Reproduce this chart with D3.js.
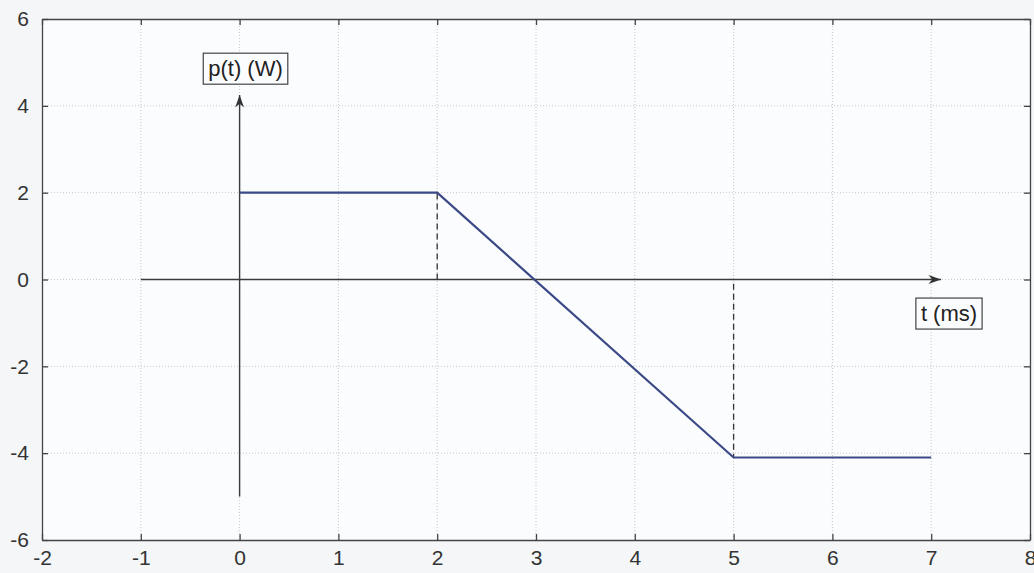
<!DOCTYPE html>
<html>
<head>
<meta charset="utf-8">
<script src="https://cdn.jsdelivr.net/npm/d3@7"></script>
<style>
  body { margin: 0; background: #f4f6f7; }
  svg { display: block; font-family: "Liberation Sans", Arial, sans-serif; }
</style>
</head>
<body>
<svg id="chart"></svg>
<script>
var $svg = {width: 1034, height: 573};
var $margin = {left: 42, right: 4, top: 19, bottom: 33};

// p(t) in W against t in ms
var timeValues = [0, 2, 5, 7];
var powerValues = [2, 2, -4.1, -4.1];
var xTicks = [-2, -1, 0, 1, 2, 3, 4, 5, 6, 7, 8];
var yTicks = [-6, -4, -2, 0, 2, 4, 6];
var dashedAt = [2, 5];
var xDomain = [-2, 8];
var yDomain = [-6, 6];

var $line = '#3b4a86';
var $ink = '#333';

function init () {
    var svg = (
        d3.select('svg#chart')
        .attr('width', $svg.width)
        .attr('height', $svg.height)
    );
    var x = d3.scaleLinear().domain(xDomain)
        .range([$margin.left, $svg.width - $margin.right]);
    var y = d3.scaleLinear().domain(yDomain)
        .range([$svg.height - $margin.bottom, $margin.top]);

    svg.append('rect')
        .attr('x', x(xDomain[0])).attr('y', y(yDomain[1]))
        .attr('width', x(xDomain[1]) - x(xDomain[0]))
        .attr('height', y(yDomain[0]) - y(yDomain[1]))
        .attr('fill', '#fbfcfd');

    // grid
    svg.append('g').selectAll('line').data(xTicks.slice(1, -1)).join('line')
        .attr('x1', d => x(d)).attr('x2', d => x(d))
        .attr('y1', y(yDomain[0])).attr('y2', y(yDomain[1]))
        .attr('stroke', '#c8c8c8').attr('stroke-width', 1).attr('stroke-dasharray', '1,2');
    svg.append('g').selectAll('line').data(yTicks.slice(1, -1)).join('line')
        .attr('y1', d => y(d)).attr('y2', d => y(d))
        .attr('x1', x(xDomain[0])).attr('x2', x(xDomain[1]))
        .attr('stroke', '#c8c8c8').attr('stroke-width', 1).attr('stroke-dasharray', '1,2');

    // axes (inner ticks, box)
    var fmt = d => String(d);
    var bottom = svg.append('g').attr('transform', `translate(0,${y(yDomain[0])})`)
        .call(d3.axisBottom(x).tickValues(xTicks).tickFormat(fmt).tickSizeInner(-6).tickSizeOuter(0).tickPadding(10));
    var top = svg.append('g').attr('transform', `translate(0,${y(yDomain[1])})`)
        .call(d3.axisTop(x).tickValues(xTicks).tickSizeInner(-6).tickSizeOuter(0).tickFormat(''));
    var left = svg.append('g').attr('transform', `translate(${x(xDomain[0])},0)`)
        .call(d3.axisLeft(y).tickValues(yTicks).tickFormat(fmt).tickSizeInner(-6).tickSizeOuter(0).tickPadding(13));
    var right = svg.append('g').attr('transform', `translate(${x(xDomain[1])},0)`)
        .call(d3.axisRight(y).tickValues(yTicks).tickSizeInner(-6).tickSizeOuter(0).tickFormat(''));
    [bottom, top, left, right].forEach(g => {
        g.selectAll('path, line').attr('stroke', '#444').attr('stroke-width', 1.3);
        g.selectAll('text').attr('font-size', 21).attr('fill', $ink)
            .attr('font-family', '"Liberation Sans", Arial, sans-serif');
    });
    left.selectAll('text').attr('dy', '0.32em');

    // arrow marker
    svg.append('defs').append('marker')
        .attr('id', 'arrow').attr('viewBox', '0 0 10 10')
        .attr('refX', 10).attr('refY', 5)
        .attr('markerWidth', 9).attr('markerHeight', 9)
        .attr('orient', 'auto-start-reverse')
        .append('path').attr('d', 'M0,1.5 L10,5 L0,8.5 L3,5 Z').attr('fill', '#333');

    // hand-drawn axes
    svg.append('line')
        .attr('x1', x(-1)).attr('x2', x(7.1))
        .attr('y1', y(0)).attr('y2', y(0))
        .attr('stroke', '#3a3a3a').attr('stroke-width', 1.4)
        .attr('marker-end', 'url(#arrow)');
    svg.append('line')
        .attr('x1', x(0)).attr('x2', x(0))
        .attr('y1', y(-5)).attr('y2', y(4.25))
        .attr('stroke', '#3a3a3a').attr('stroke-width', 1.4)
        .attr('marker-end', 'url(#arrow)');

    // dashed drops
    svg.append('g').selectAll('line').data(dashedAt).join('line')
        .attr('x1', d => x(d)).attr('x2', d => x(d))
        .attr('y1', d => d === 5 ? y(-0.1) : y(0))
        .attr('y2', d => y(powerValues[timeValues.indexOf(d)]))
        .attr('stroke', '#333').attr('stroke-width', 1.3)
        .attr('stroke-dasharray', '6,4');

    // curve
    var data = timeValues.map((t, i) => [t, powerValues[i]]);
    svg.append('path')
        .attr('d', d3.line().x(d => x(d[0])).y(d => y(d[1]))(data))
        .attr('fill', 'none').attr('stroke', $line).attr('stroke-width', 2.2);

    // labels in boxes
    boxLabel(svg, 'p(t) (W)', x(0.06), y(4.86));
    boxLabel(svg, 't (ms)', x(7.18), y(-0.78));
}

function boxLabel (svg, text, cx, cy) {
    var g = svg.append('g');
    var t = g.append('text')
        .attr('x', cx).attr('y', cy).attr('dy', '0.35em')
        .attr('text-anchor', 'middle')
        .attr('font-size', 22).attr('fill', '#222')
        .text(text);
    var b = t.node().getBBox();
    g.insert('rect', 'text')
        .attr('x', b.x - 5).attr('y', b.y - 3)
        .attr('width', b.width + 10).attr('height', b.height + 6)
        .attr('fill', '#fbfcfd').attr('stroke', '#444').attr('stroke-width', 1.2);
}

init();
</script>
</body>
</html>
